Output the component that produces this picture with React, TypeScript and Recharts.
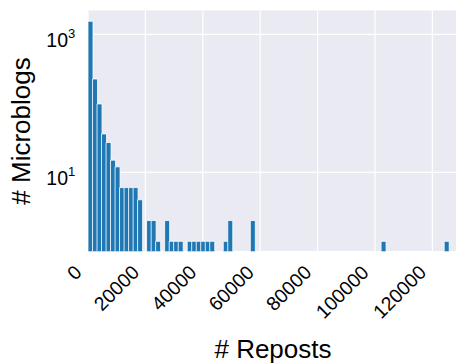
import { BarChart, Bar, XAxis, YAxis, CartesianGrid } from 'recharts';

// histogram of repost counts, 80 equal-width bins starting at 0
const binWidth = 1571;
const counts = [
  1545, 225, 98, 36, 27, 15, 12, 6, 6, 6, 6, 4, 0, 2, 2, 1, 0, 2, 1, 1,
  1, 0, 1, 1, 1, 1, 1, 1, 0, 0, 1, 2, 0, 0, 0, 0, 2, 0, 0, 0,
  0, 0, 0, 0, 0, 0, 0, 0, 0, 0, 0, 0, 0, 0, 0, 0, 0, 0, 0, 0,
  0, 0, 0, 0, 0, 1, 0, 0, 0, 0, 0, 0, 0, 0, 0, 0, 0, 0, 0, 1,
];
const xTicks = [0, 20000, 40000, 60000, 80000, 100000, 120000];
const yTicks = [10, 1000];
const yExponents: Record<number, string> = { 10: '1', 1000: '3' };

const FONT = '"Liberation Sans", Arial, sans-serif';
const PLOT_LEFT = 88;
const PLOT_TOP = 10;
const PLOT_BOTTOM = 251.7;

// log scale can't show zeros, so only keep non-empty bins
const data = counts
  .map((count, i) => ({ x: (i + 0.5) * binWidth, count }))
  .filter((d) => d.count > 0);

const XTick = (props: any) => {
  const x = props.payload.coordinate - 5;
  const y = PLOT_BOTTOM + 22;
  return (
    <text
      x={x}
      y={y}
      textAnchor="end"
      transform={`rotate(-45, ${x}, ${y})`}
      fontSize={19.5}
      fontFamily={FONT}
      fill="#000"
    >
      {props.payload.value}
    </text>
  );
};

const YTick = (props: any) => {
  const y = props.payload.coordinate;
  return (
    <g fontFamily={FONT} fill="#000">
      <text x={68} y={y + 12.7} textAnchor="end" fontSize={19.5}>
        10
      </text>
      <text x={68} y={y + 4} fontSize={13}>
        {yExponents[props.payload.value]}
      </text>
    </g>
  );
};

export default function App() {
  return (
    <div
      style={{
        position: 'absolute',
        left: 0,
        top: 0,
        width: 456,
        height: 364,
        overflow: 'hidden',
        background: '#fff',
      }}
    >
      <BarChart
        width={458}
        height={364}
        data={data}
        margin={{ top: PLOT_TOP, right: 0, bottom: 0, left: 0 }}
        barCategoryGap={0}
        barGap={0}
      >
        <CartesianGrid fill="#eaeaf2" stroke="#ffffff" strokeWidth={1.2} />
        <XAxis
          dataKey="x"
          type="number"
          domain={[0, 128920]}
          ticks={xTicks}
          allowDataOverflow
          height={364 - PLOT_BOTTOM}
          axisLine={false}
          tickLine={false}
          tick={(p: any) => <XTick {...p} />}
          interval={0}
        />
        <YAxis
          scale="log"
          domain={[0.707, 2249]}
          ticks={yTicks}
          allowDataOverflow
          width={PLOT_LEFT}
          axisLine={false}
          tickLine={false}
          tick={(p: any) => <YTick {...p} />}
          interval={0}
        />
        <Bar
          dataKey="count"
          fill="#1f77b4"
          stroke="#ffffff"
          strokeWidth={0.8}
          isAnimationActive={false}
        />
      </BarChart>
      <svg
        width={456}
        height={364}
        style={{ position: 'absolute', left: 0, top: 0, pointerEvents: 'none' }}
      >
        <text x={273} y={358} textAnchor="middle" fontSize={26} fontFamily={FONT} fill="#000">
          # Reposts
        </text>
        <text
          x={30}
          y={131}
          textAnchor="middle"
          transform="rotate(-90, 30, 131)"
          fontSize={26}
          fontFamily={FONT}
          fill="#000"
        >
          # Microblogs
        </text>
      </svg>
    </div>
  );
}
